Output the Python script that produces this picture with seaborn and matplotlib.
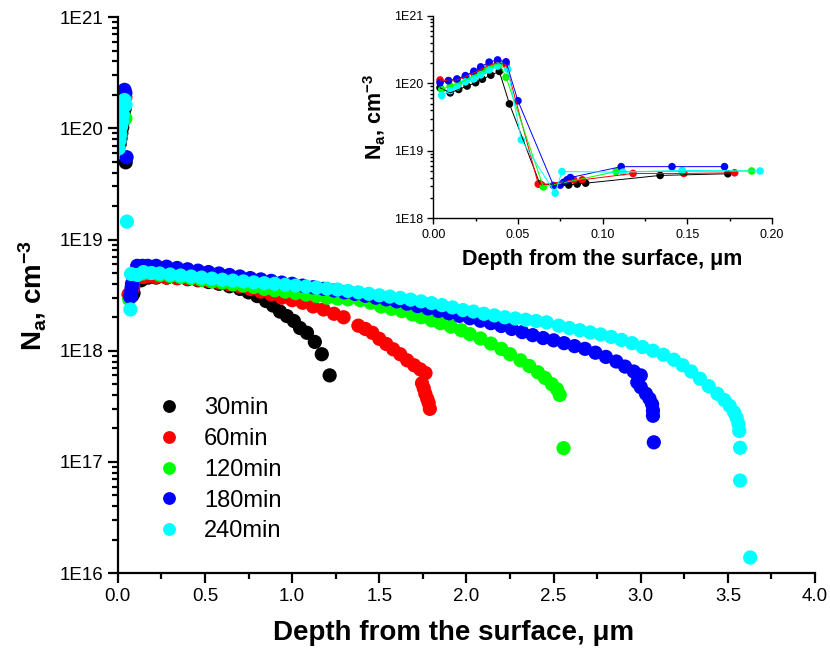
import numpy as np
import pandas as pd
import seaborn as sns
from matplotlib import pyplot as plt
from matplotlib.ticker import FuncFormatter, LogLocator, MultipleLocator, NullFormatter

# Anneal times and colours
labels = ['30min', '60min', '120min', '180min', '240min']
colors = ['#000000', '#ff0000', '#00ff00', '#0000ff', '#00ffff']

# Depth (um) and Na (cm^-3)
depth_30 = [0.004, 0.010, 0.015, 0.020, 0.025, 0.029, 0.034, 0.039, 0.045, 0.063, 0.080, 0.085, 0.090,
            0.134, 0.174, 0.22, 0.28, 0.34, 0.40, 0.46, 0.52, 0.58, 0.64, 0.70, 0.75, 0.80, 0.85, 0.89,
            0.93, 0.97, 1.01, 1.045, 1.085, 1.13, 1.17, 1.215]
conc_30 = [8.6e19, 7.2e19, 8.1e19, 9.1e19, 1.02e20, 1.15e20, 1.32e20, 1.5e20, 4.95e19, 3.2e18, 3.1e18,
           3.2e18, 3.3e18, 4.3e18, 4.55e18, 4.55e18, 4.55e18, 4.5e18, 4.4e18, 4.3e18, 4.15e18, 4.0e18,
           3.8e18, 3.6e18, 3.35e18, 3.1e18, 2.8e18, 2.55e18, 2.25e18, 2.05e18, 1.85e18, 1.6e18, 1.45e18,
           1.2e18, 0.93e18, 0.6e18]

depth_60 = [0.004, 0.009, 0.014, 0.019, 0.024, 0.028, 0.033, 0.038, 0.043, 0.062, 0.064, 0.083, 0.088,
            0.118, 0.148, 0.178, 0.22, 0.28, 0.34, 0.40, 0.46, 0.52, 0.58, 0.64, 0.70, 0.76, 0.82, 0.88,
            0.94, 1.00, 1.06, 1.12, 1.18, 1.24, 1.295, 1.38, 1.42, 1.46, 1.50, 1.54, 1.58, 1.62, 1.66,
            1.70, 1.735, 1.765, 1.745, 1.755, 1.764, 1.775, 1.783, 1.79]
conc_60 = [1.12e20, 1.1e20, 1.13e20, 1.25e20, 1.42e20, 1.6e20, 1.85e20, 2.0e20, 1.9e20, 3.2e18, 3.1e18,
           3.7e18, 3.7e18, 4.6e18, 4.6e18, 4.7e18, 4.6e18, 4.55e18, 4.5e18, 4.45e18, 4.35e18, 4.25e18,
           4.1e18, 3.95e18, 3.8e18, 3.6e18, 3.4e18, 3.2e18, 3.0e18, 2.85e18, 2.7e18, 2.5e18, 2.35e18,
           2.15e18, 2.0e18, 1.68e18, 1.57e18, 1.45e18, 1.28e18, 1.15e18, 1.03e18, 0.93e18, 0.82e18,
           0.74e18, 0.68e18, 0.63e18, 5.1e17, 4.6e17, 4.1e17, 3.7e17, 3.4e17, 3.0e17]

depth_120 = [0.005, 0.010, 0.015, 0.020, 0.025, 0.030, 0.034, 0.039, 0.043, 0.065, 0.108, 0.147, 0.188,
             0.24, 0.30, 0.36, 0.42, 0.48, 0.54, 0.60, 0.66, 0.72, 0.78, 0.84, 0.90, 0.96, 1.02, 1.08,
             1.14, 1.20, 1.26, 1.32, 1.39, 1.45, 1.51, 1.57, 1.63, 1.69, 1.74, 1.80, 1.85, 1.91, 1.97,
             2.02, 2.08, 2.14, 2.20, 2.25, 2.31, 2.36, 2.41, 2.45, 2.49, 2.52, 2.535, 2.557]
conc_120 = [8.1e19, 9.1e19, 1.0e20, 1.15e20, 1.35e20, 1.55e20, 1.8e20, 1.95e20, 1.23e20, 2.9e18, 4.9e18,
            4.96e18, 5.0e18, 4.8e18, 4.7e18, 4.6e18, 4.5e18, 4.35e18, 4.2e18, 4.1e18, 3.95e18, 3.85e18,
            3.75e18, 3.6e18, 3.5e18, 3.4e18, 3.3e18, 3.2e18, 3.1e18, 3.0e18, 2.95e18, 2.9e18, 2.85e18,
            2.7e18, 2.5e18, 2.38e18, 2.27e18, 2.12e18, 2.0e18, 1.88e18, 1.77e18, 1.65e18, 1.53e18,
            1.41e18, 1.29e18, 1.16e18, 1.04e18, 0.93e18, 0.82e18, 0.73e18, 0.64e18, 0.57e18, 0.5e18,
            0.45e18, 0.4e18, 1.33e17]

depth_180 = [0.004, 0.009, 0.014, 0.019, 0.024, 0.028, 0.033, 0.038, 0.043, 0.050, 0.071, 0.075, 0.077,
             0.079, 0.081, 0.111, 0.141, 0.172, 0.22, 0.28, 0.34, 0.40, 0.46, 0.52, 0.58, 0.64, 0.70,
             0.76, 0.82, 0.88, 0.94, 1.00, 1.06, 1.12, 1.18, 1.24, 1.30, 1.36, 1.42, 1.48, 1.54, 1.60,
             1.66, 1.72, 1.78, 1.84, 1.90, 1.96, 2.02, 2.08, 2.14, 2.20, 2.26, 2.32, 2.38, 2.44, 2.50,
             2.56, 2.62, 2.68, 2.74, 2.80, 2.86, 2.91, 2.96, 3.00, 2.98, 3.00, 3.03, 3.05, 3.065, 3.07,
             3.07, 3.075]
conc_180 = [1.02e20, 1.09e20, 1.16e20, 1.3e20, 1.51e20, 1.75e20, 2.06e20, 2.22e20, 2.08e20, 5.5e19,
            3.05e18, 3.09e18, 3.4e18, 3.7e18, 4.0e18, 5.8e18, 5.8e18, 5.8e18, 5.8e18, 5.7e18, 5.55e18,
            5.4e18, 5.25e18, 5.1e18, 4.95e18, 4.8e18, 4.65e18, 4.5e18, 4.38e18, 4.25e18, 4.1e18, 4.0e18,
            3.85e18, 3.72e18, 3.6e18, 3.48e18, 3.35e18, 3.25e18, 3.12e18, 3.0e18, 2.9e18, 2.78e18,
            2.65e18, 2.52e18, 2.4e18, 2.28e18, 2.17e18, 2.06e18, 1.96e18, 1.86e18, 1.77e18, 1.67e18,
            1.57e18, 1.47e18, 1.38e18, 1.3e18, 1.24e18, 1.17e18, 1.1e18, 1.04e18, 0.96e18, 0.88e18,
            0.8e18, 0.72e18, 0.65e18, 0.6e18, 0.52e18, 0.47e18, 0.41e18, 0.37e18, 0.33e18, 0.29e18,
            0.26e18, 1.5e17]

depth_240 = [0.005, 0.010, 0.014, 0.019, 0.024, 0.028, 0.033, 0.038, 0.044, 0.052, 0.072, 0.076, 0.112,
             0.147, 0.193, 0.24, 0.30, 0.36, 0.42, 0.48, 0.54, 0.60, 0.66, 0.72, 0.78, 0.84, 0.90, 0.96,
             1.02, 1.08, 1.14, 1.20, 1.26, 1.32, 1.38, 1.44, 1.50, 1.56, 1.62, 1.68, 1.74, 1.80, 1.86,
             1.92, 1.98, 2.04, 2.10, 2.16, 2.22, 2.28, 2.34, 2.40, 2.46, 2.53, 2.59, 2.65, 2.71, 2.77,
             2.83, 2.89, 2.95, 3.01, 3.07, 3.13, 3.19, 3.24, 3.29, 3.34, 3.39, 3.44, 3.48, 3.51, 3.535,
             3.55, 3.56, 3.565, 3.57, 3.57, 3.628]
conc_240 = [6.6e19, 7.8e19, 8.8e19, 1.05e20, 1.15e20, 1.33e20, 1.58e20, 1.8e20, 1.62e20, 1.45e19,
            2.35e18, 4.9e18, 4.8e18, 5.1e18, 5.0e18, 4.95e18, 4.85e18, 4.75e18, 4.65e18, 4.55e18,
            4.45e18, 4.35e18, 4.27e18, 4.2e18, 4.12e18, 4.05e18, 4.0e18, 3.92e18, 3.85e18, 3.78e18,
            3.7e18, 3.62e18, 3.55e18, 3.45e18, 3.35e18, 3.25e18, 3.15e18, 3.07e18, 2.98e18, 2.88e18,
            2.78e18, 2.68e18, 2.57e18, 2.45e18, 2.32e18, 2.25e18, 2.15e18, 2.08e18, 2.0e18, 1.95e18,
            1.9e18, 1.85e18, 1.8e18, 1.68e18, 1.6e18, 1.53e18, 1.46e18, 1.4e18, 1.33e18, 1.25e18,
            1.17e18, 1.08e18, 1.0e18, 0.92e18, 0.83e18, 0.74e18, 0.65e18, 0.56e18, 0.48e18, 0.41e18,
            0.36e18, 0.32e18, 0.28e18, 0.25e18, 0.22e18, 0.19e18, 1.34e17, 6.8e16, 1.38e16]

depths = [depth_30, depth_60, depth_120, depth_180, depth_240]
concs = [conc_30, conc_60, conc_120, conc_180, conc_240]

df = pd.concat([pd.DataFrame({'Depth': d, 'Na': c, 'Time': lab})
                for lab, d, c in zip(labels, depths, concs)], ignore_index=True)
palette = dict(zip(labels, colors))

sns.set_style('ticks')
plt.rcParams['font.family'] = ['Liberation Sans', 'DejaVu Sans']
plt.rcParams['text.color'] = 'black'
plt.rcParams['axes.labelcolor'] = 'black'
plt.rcParams['mathtext.fontset'] = 'custom'
plt.rcParams['mathtext.rm'] = 'Liberation Sans:bold'
plt.rcParams['mathtext.it'] = 'Liberation Sans:bold'
plt.rcParams['mathtext.bf'] = 'Liberation Sans:bold'
plt.rcParams['mathtext.default'] = 'rm'

exp_fmt = FuncFormatter(lambda v, p: f"1E{int(round(np.log10(v)))}")


def style_axes(ax, major_x, minor_x, tick_size, lw, major_len, minor_len):
    ax.set_yscale('log')
    ax.xaxis.set_major_locator(MultipleLocator(major_x))
    ax.xaxis.set_minor_locator(MultipleLocator(minor_x))
    ax.yaxis.set_major_locator(LogLocator(base=10, numticks=20))
    ax.yaxis.set_minor_locator(LogLocator(base=10, subs=np.arange(2, 10), numticks=20))
    ax.yaxis.set_major_formatter(exp_fmt)
    ax.yaxis.set_minor_formatter(NullFormatter())
    ax.tick_params(which='both', direction='out', width=lw, colors='black', labelsize=tick_size)
    ax.tick_params(which='major', length=major_len)
    ax.tick_params(which='minor', length=minor_len)
    sns.despine(ax=ax)
    for side in ['left', 'bottom']:
        ax.spines[side].set_linewidth(lw)
        ax.spines[side].set_color('black')


fig = plt.figure(figsize=(8.3, 6.61), dpi=100)

# Main plot
ax = fig.add_axes([0.142, 0.133, 0.840, 0.841])
sns.scatterplot(data=df, x='Depth', y='Na', hue='Time', palette=palette,
                s=105, linewidth=0, ax=ax)
style_axes(ax, 0.5, 0.25, 13.5, 1.6, 7, 4)
ax.set_xlim(0, 4)
ax.set_ylim(1e16, 1e21)
ax.xaxis.set_major_formatter(FuncFormatter(lambda v, p: f"{v:.1f}"))
ax.set_xlabel("Depth from the surface, μm", fontsize=20, fontweight='bold', labelpad=15)
ax.xaxis.set_label_coords(0.482, -0.085)
ax.set_ylabel(r"N$_a$, cm$^{-3}$", fontsize=20, fontweight='bold', labelpad=8)

handles, labs = ax.get_legend_handles_labels()
ax.legend(handles, labs, loc='upper left', bbox_to_anchor=(0.056, 0.316), frameon=False,
          fontsize=17, handlelength=1, handletextpad=1.0, labelspacing=0.37,
          borderpad=0, borderaxespad=0, markerscale=0.9)

# Inset: near-surface region
ins = fig.add_axes([0.522, 0.670, 0.408, 0.306])
near = df[df['Depth'] <= 0.2]
sns.lineplot(data=near, x='Depth', y='Na', hue='Time', palette=palette, estimator=None,
             sort=True, lw=0.7, legend=False, ax=ins)
sns.scatterplot(data=near, x='Depth', y='Na', hue='Time', palette=palette,
                s=30, linewidth=0, legend=False, ax=ins)
style_axes(ins, 0.05, 0.025, 9, 1.0, 4, 2.5)
ins.set_xlim(0, 0.2)
ins.set_ylim(1e18, 1e21)
ins.xaxis.set_major_formatter(FuncFormatter(lambda v, p: f"{v:.2f}"))
ins.set_xlabel("Depth from the surface, μm", fontsize=15.5, fontweight='bold', labelpad=6)
ins.set_ylabel(r"N$_a$, cm$^{-3}$", fontsize=15.5, fontweight='bold', labelpad=4)

fig.savefig('out.png', dpi=100)
